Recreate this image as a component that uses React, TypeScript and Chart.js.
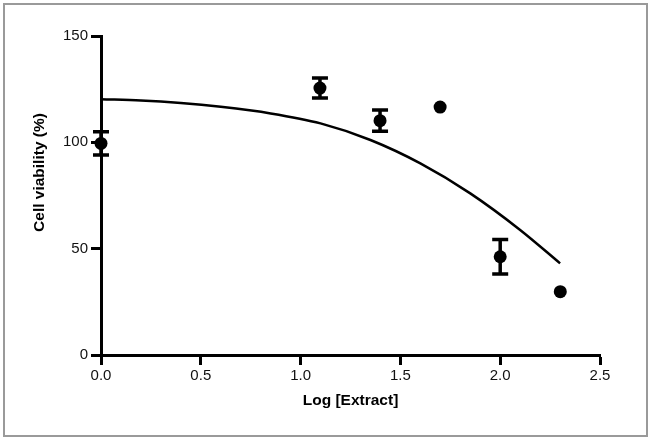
import React, { useEffect, useRef } from "react";
import { Chart, registerables } from "chart.js";

Chart.register(...registerables);

// Measured data (mean ± error)
const logConc = [0, 1.097, 1.398, 1.699, 2.0, 2.301];
const viabilityMean = [99.5, 125.5, 110.2, 116.6, 46.2, 29.8];
const viabilityErr = [5.5, 4.7, 5.0, 0, 8.1, 0];

// Fitted curve
const fitX = [0, 0.2, 0.4, 0.6, 0.85, 1.1, 1.35, 1.6, 1.85, 2.1, 2.3];
const fitY = [120.3, 119.7, 118.5, 116.7, 113.6, 108.9, 101.1, 90.1, 76.0, 58.8, 43.1];

// Axis ticks
const xTickValues = [0, 0.5, 1, 1.5, 2, 2.5];
const yTickValues = [0, 50, 100, 150];

const xTitle = "Log [Extract]";
const yTitle = "Cell viability (%)";

const FONT = "'Liberation Sans', Arial, Helvetica, sans-serif";

const errorBarPlugin = {
  id: "errorBars",
  afterDatasetsDraw(chart: any) {
    const { ctx } = chart;
    const xs = chart.scales.x;
    const ys = chart.scales.y;
    ctx.save();
    ctx.strokeStyle = "#000";
    ctx.lineWidth = 3.5;
    ctx.lineCap = "butt";
    for (let i = 0; i < logConc.length; i++) {
      const e = viabilityErr[i];
      if (!e) continue;
      const px = xs.getPixelForValue(logConc[i]);
      const top = ys.getPixelForValue(viabilityMean[i] + e);
      const bot = ys.getPixelForValue(viabilityMean[i] - e);
      const half = 8;
      ctx.beginPath();
      ctx.moveTo(px, top);
      ctx.lineTo(px, bot);
      ctx.moveTo(px - half, top);
      ctx.lineTo(px + half, top);
      ctx.moveTo(px - half, bot);
      ctx.lineTo(px + half, bot);
      ctx.stroke();
    }
    ctx.restore();
  },
};

const yTitlePlugin = {
  id: "yTitle",
  afterDraw(chart: any) {
    const { ctx } = chart;
    ctx.save();
    ctx.translate(40, 172.5);
    ctx.rotate(-Math.PI / 2);
    ctx.font = `bold 15.5px ${FONT}`;
    ctx.fillStyle = "#000";
    ctx.textAlign = "center";
    ctx.textBaseline = "middle";
    ctx.fillText(yTitle, 0, 0);
    ctx.restore();
  },
};

export default function App() {
  const ref = useRef<HTMLCanvasElement | null>(null);

  useEffect(() => {
    if (!ref.current) return;
    const chart = new Chart(ref.current, {
      type: "scatter",
      data: {
        datasets: [
          {
            label: "fit",
            data: fitX.map((x, i) => ({ x, y: fitY[i] })),
            showLine: true,
            borderColor: "#000",
            borderWidth: 2.5,
            pointRadius: 0,
            cubicInterpolationMode: "monotone",
            fill: false,
          } as any,
          {
            label: "data",
            data: logConc.map((x, i) => ({ x, y: viabilityMean[i] })),
            showLine: false,
            clip: false,
            pointRadius: 6.5,
            pointBackgroundColor: "#000",
            pointBorderColor: "#000",
            pointBorderWidth: 0,
          } as any,
        ],
      },
      options: {
        animation: false,
        responsive: false,
        devicePixelRatio: 1,
        layout: { padding: { left: 0, top: 36, right: 51, bottom: 0 } },
        plugins: {
          legend: { display: false },
          tooltip: { enabled: false },
        },
        scales: {
          x: {
            type: "linear",
            min: 0,
            max: 2.5,
            afterBuildTicks: (scale: any) => {
              scale.ticks = xTickValues.map((v) => ({ value: v }));
            },
            afterFit: (scale: any) => {
              scale.height = 85;
            },
            ticks: {
              callback: (v: any) => Number(v).toFixed(1),
              font: { family: FONT, size: 15 },
              color: "#111",
              padding: 2,
              maxRotation: 0,
            },
            grid: {
              drawOnChartArea: false,
              drawTicks: true,
              tickLength: 10,
              tickWidth: 3,
              tickColor: "#000",
              color: "#000",
            },
            border: { display: true, color: "#000", width: 3 },
            title: {
              display: true,
              text: xTitle,
              color: "#000",
              font: { family: FONT, size: 15.5, weight: "bold" },
              padding: { top: 0, bottom: 30 },
            },
          },
          y: {
            type: "linear",
            min: 0,
            max: 150,
            afterBuildTicks: (scale: any) => {
              scale.ticks = yTickValues.map((v) => ({ value: v }));
            },
            afterFit: (scale: any) => {
              scale.width = 101;
            },
            ticks: {
              font: { family: FONT, size: 15 },
              color: "#111",
              padding: 3,
            },
            grid: {
              drawOnChartArea: false,
              drawTicks: true,
              tickLength: 10,
              tickWidth: 3,
              tickColor: "#000",
              color: "#000",
            },
            border: { display: true, color: "#000", width: 3 },
          },
        },
      } as any,
      plugins: [errorBarPlugin, yTitlePlugin],
    });
    return () => chart.destroy();
  }, []);

  return (
    <div
      style={{
        position: "fixed",
        left: 0,
        top: 0,
        width: 651,
        height: 440,
        background: "#fff",
      }}
    >
      <canvas ref={ref} width={651} height={440} style={{ position: "absolute", left: 0, top: 0 }} />
      <div
        style={{
          position: "absolute",
          left: 3,
          top: 3,
          width: 645,
          height: 434,
          border: "2px solid #9a9a9a",
          boxSizing: "border-box",
          pointerEvents: "none",
        }}
      />
    </div>
  );
}
